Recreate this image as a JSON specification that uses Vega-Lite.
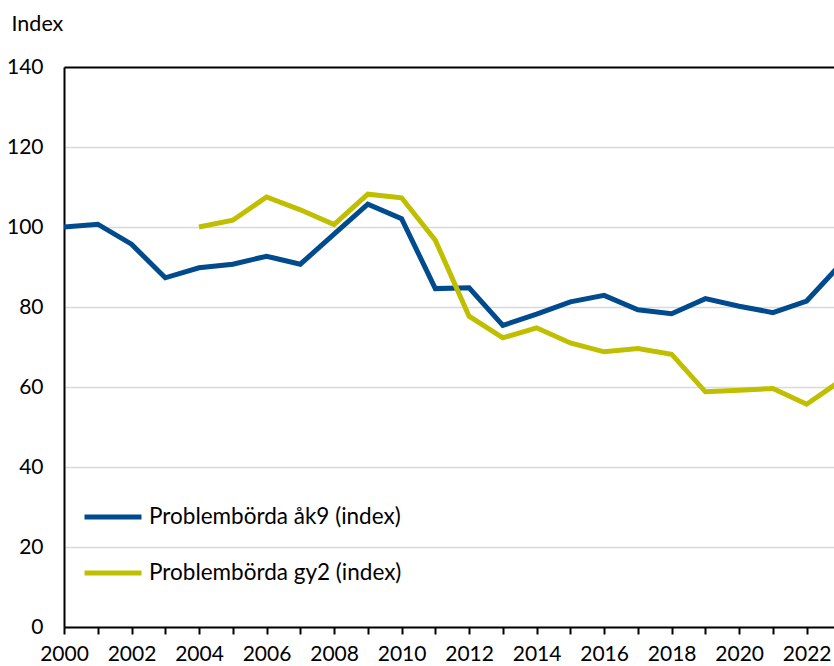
{
  "$schema": "https://vega.github.io/schema/vega-lite/v6.json",
  "width": 770,
  "height": 560,
  "autosize": {"type": "none"},
  "padding": {"left": 64, "top": 67, "right": 0, "bottom": 39},
  "background": "white",
  "config": {
    "view": {"stroke": null},
    "font": "Lato",
    "text": {"font": "Lato"}
  },
  "data": {
    "values": [
      {"year": 2000, "series": "Problembörda åk9 (index)", "value": 100.0},
      {"year": 2001, "series": "Problembörda åk9 (index)", "value": 100.7},
      {"year": 2002, "series": "Problembörda åk9 (index)", "value": 95.7},
      {"year": 2003, "series": "Problembörda åk9 (index)", "value": 87.3},
      {"year": 2004, "series": "Problembörda åk9 (index)", "value": 89.8},
      {"year": 2005, "series": "Problembörda åk9 (index)", "value": 90.7},
      {"year": 2006, "series": "Problembörda åk9 (index)", "value": 92.7},
      {"year": 2007, "series": "Problembörda åk9 (index)", "value": 90.7},
      {"year": 2008, "series": "Problembörda åk9 (index)", "value": 98.2},
      {"year": 2009, "series": "Problembörda åk9 (index)", "value": 105.7},
      {"year": 2010, "series": "Problembörda åk9 (index)", "value": 102.1},
      {"year": 2011, "series": "Problembörda åk9 (index)", "value": 84.6},
      {"year": 2012, "series": "Problembörda åk9 (index)", "value": 84.8},
      {"year": 2013, "series": "Problembörda åk9 (index)", "value": 75.4},
      {"year": 2014, "series": "Problembörda åk9 (index)", "value": 78.2},
      {"year": 2015, "series": "Problembörda åk9 (index)", "value": 81.3},
      {"year": 2016, "series": "Problembörda åk9 (index)", "value": 82.9},
      {"year": 2017, "series": "Problembörda åk9 (index)", "value": 79.3},
      {"year": 2018, "series": "Problembörda åk9 (index)", "value": 78.3},
      {"year": 2019, "series": "Problembörda åk9 (index)", "value": 82.1},
      {"year": 2020, "series": "Problembörda åk9 (index)", "value": 80.2},
      {"year": 2021, "series": "Problembörda åk9 (index)", "value": 78.6},
      {"year": 2022, "series": "Problembörda åk9 (index)", "value": 81.5},
      {"year": 2023, "series": "Problembörda åk9 (index)", "value": 90.6},
      {"year": 2004, "series": "Problembörda gy2 (index)", "value": 100.0},
      {"year": 2005, "series": "Problembörda gy2 (index)", "value": 101.7},
      {"year": 2006, "series": "Problembörda gy2 (index)", "value": 107.5},
      {"year": 2007, "series": "Problembörda gy2 (index)", "value": 104.3},
      {"year": 2008, "series": "Problembörda gy2 (index)", "value": 100.6},
      {"year": 2009, "series": "Problembörda gy2 (index)", "value": 108.2},
      {"year": 2010, "series": "Problembörda gy2 (index)", "value": 107.3},
      {"year": 2011, "series": "Problembörda gy2 (index)", "value": 96.7},
      {"year": 2012, "series": "Problembörda gy2 (index)", "value": 77.7},
      {"year": 2013, "series": "Problembörda gy2 (index)", "value": 72.3},
      {"year": 2014, "series": "Problembörda gy2 (index)", "value": 74.8},
      {"year": 2015, "series": "Problembörda gy2 (index)", "value": 71.0},
      {"year": 2016, "series": "Problembörda gy2 (index)", "value": 68.8},
      {"year": 2017, "series": "Problembörda gy2 (index)", "value": 69.6},
      {"year": 2018, "series": "Problembörda gy2 (index)", "value": 68.2},
      {"year": 2019, "series": "Problembörda gy2 (index)", "value": 58.8},
      {"year": 2020, "series": "Problembörda gy2 (index)", "value": 59.2},
      {"year": 2021, "series": "Problembörda gy2 (index)", "value": 59.6},
      {"year": 2022, "series": "Problembörda gy2 (index)", "value": 55.7},
      {"year": 2023, "series": "Problembörda gy2 (index)", "value": 61.5}
    ]
  },
  "mark": {"type": "line", "strokeWidth": 5, "clip": true, "strokeJoin": "miter"},
  "encoding": {
    "x": {
      "field": "year",
      "type": "quantitative",
      "scale": {"domain": [2000, 2022.81], "nice": false, "zero": false},
      "axis": {
        "title": null,
        "values": [2000,2001,2002,2003,2004,2005,2006,2007,2008,2009,2010,2011,2012,2013,2014,2015,2016,2017,2018,2019,2020,2021,2022],
        "labelExpr": "datum.value % 2 == 0 ? format(datum.value, 'd') : ''",
        "grid": false,
        "domainColor": "black",
        "domainWidth": 2,
        "tickColor": "black",
        "tickWidth": 2,
        "tickSize": 7,
        "labelFontSize": 21,
        "labelColor": "black",
        "labelPadding": 9,
        "labelFlush": false,
        "labelOverlap": false,
        "labelFont": "Lato"
      }
    },
    "y": {
      "field": "value",
      "type": "quantitative",
      "scale": {"domain": [0, 140], "nice": false},
      "axis": {
        "title": "Index",
        "titleAngle": 0,
        "titleX": -53,
        "titleY": -43,
        "titleAlign": "left",
        "titleBaseline": "middle",
        "titleFontSize": 21.5,
        "titleFontWeight": "normal",
        "titleColor": "black",
        "titleFont": "Lato",
        "values": [0, 20, 40, 60, 80, 100, 120, 140],
        "ticks": false,
        "labelPadding": 21,
        "labelFontSize": 21,
        "labelColor": "black",
        "labelFont": "Lato",
        "domainColor": "black",
        "domainWidth": 2,
        "grid": true,
        "gridColor": {"condition": {"test": "datum.value == 140", "value": "black"}, "value": "#d9d9d9"},
        "gridWidth": {"condition": {"test": "datum.value == 140", "value": 2}, "value": 1.5}
      }
    },
    "color": {
      "field": "series",
      "type": "nominal",
      "scale": {
        "domain": ["Problembörda åk9 (index)", "Problembörda gy2 (index)"],
        "range": ["#004A8E", "#BFBF00"]
      },
      "legend": {
        "title": null,
        "orient": "none",
        "legendX": 18,
        "legendY": 419,
        "symbolType": "stroke",
        "symbolSize": 3249,
        "symbolStrokeWidth": 5,
        "labelFontSize": 22.5,
        "labelFont": "Lato",
        "labelColor": "black",
        "labelOffset": 5,
        "rowPadding": 13,
        "labelLimit": 400
      }
    }
  }
}
